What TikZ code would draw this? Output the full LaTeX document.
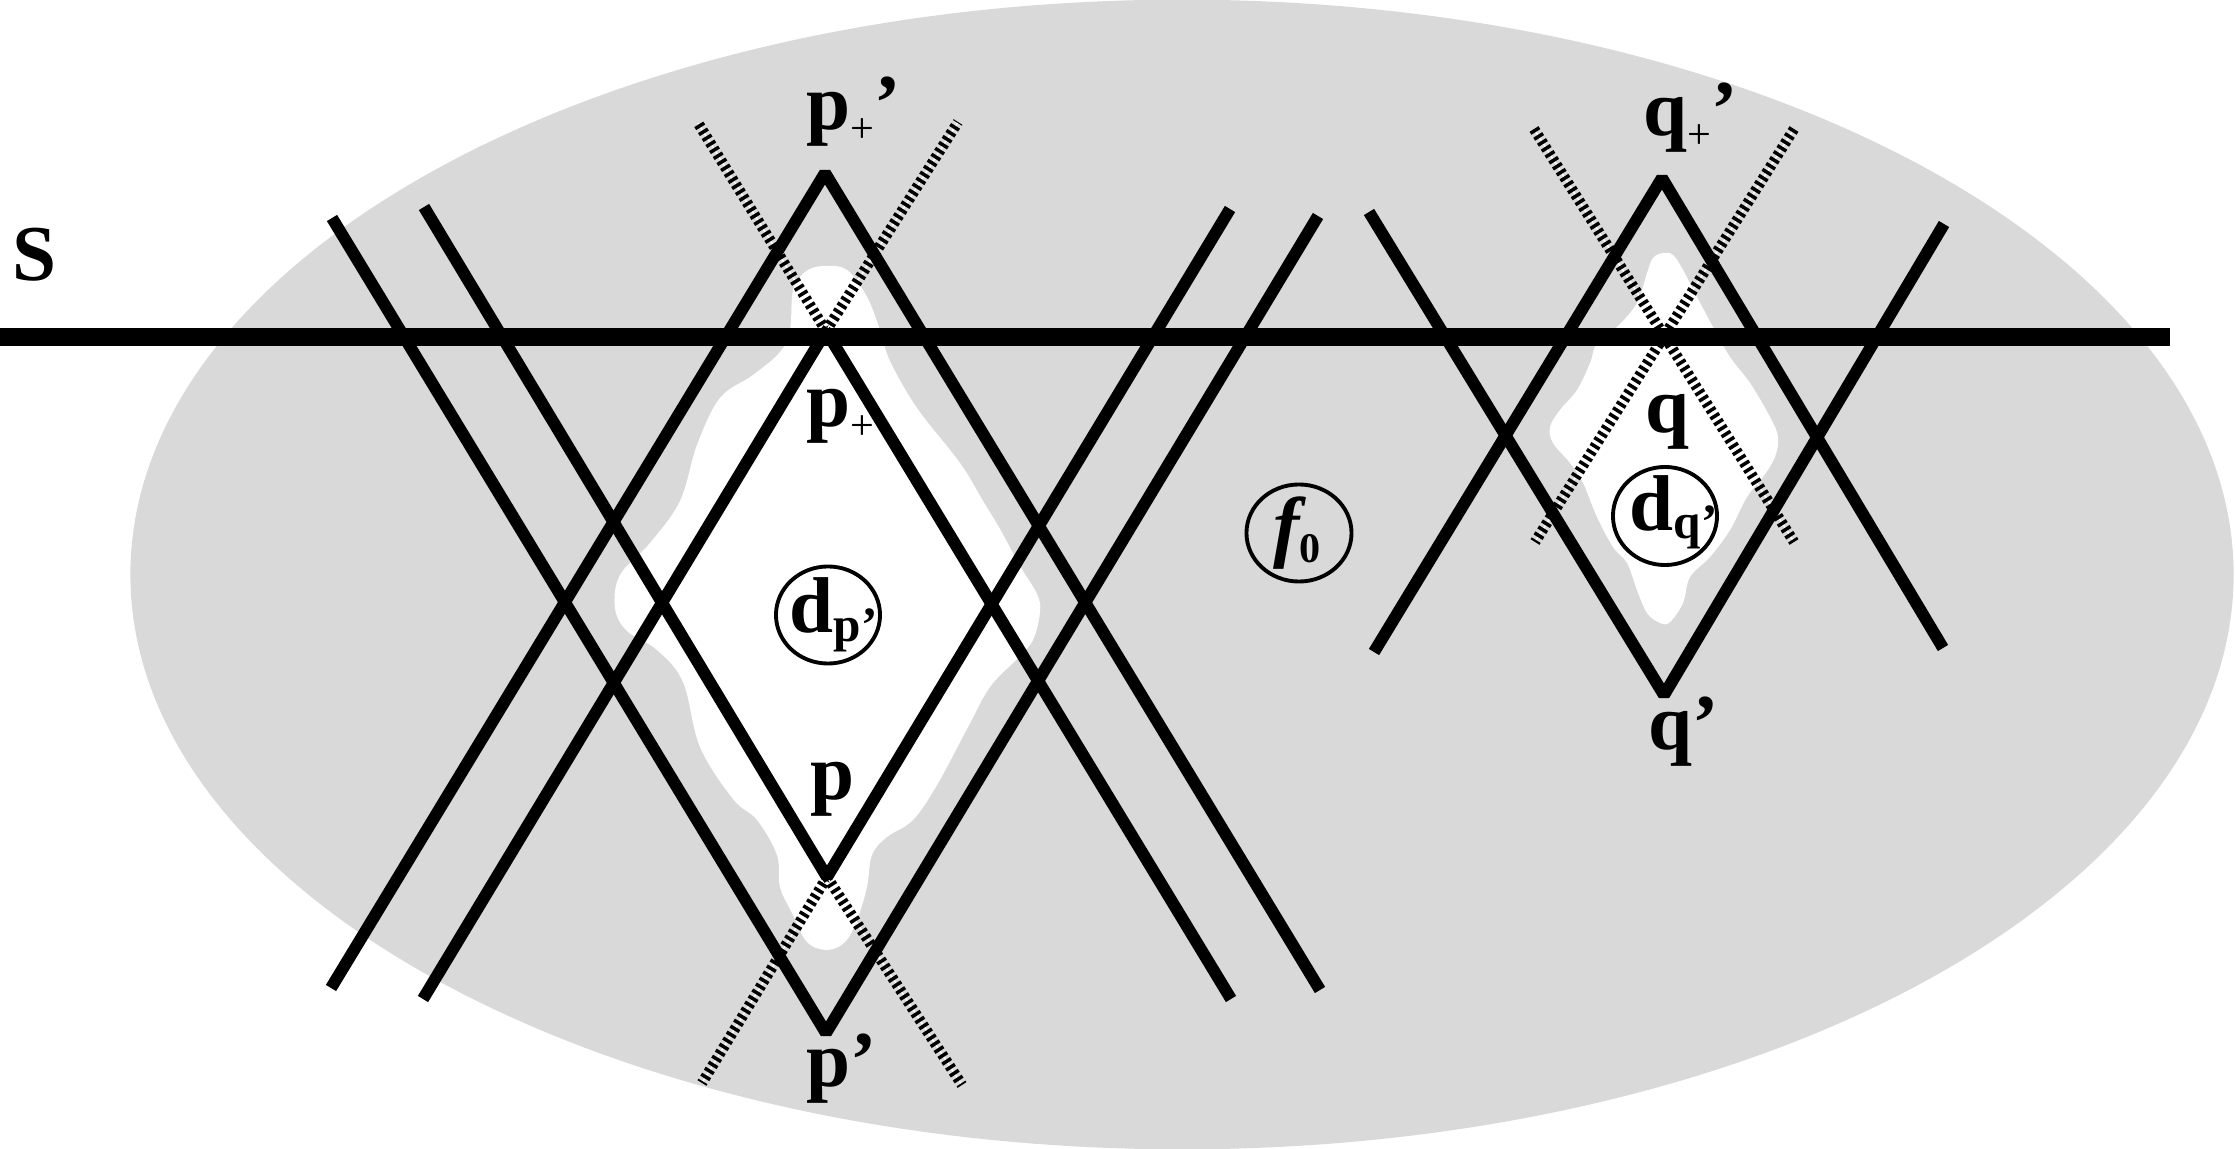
\documentclass[tikz,border=0pt]{standalone}
\usepackage{fontspec}
\setmainfont{Liberation Serif}
\definecolor{bggray}{RGB}{217,217,217}
\newcommand\subplus{\raisebox{-3.5pt}{\fontsize{12}{13}\selectfont\mdseries +}}
\begin{document}
\begin{tikzpicture}[x=0.01cm,y=-0.01cm,
  bl/.style={line width=3.4pt, line join=bevel, line cap=butt},
  sline/.style={line width=4.9pt},
  hatch/.style={draw=black, line width=3pt, dash pattern=on 1pt off 1pt, preaction={draw=white, solid}},
  lbl/.style={inner sep=0pt, anchor=base west, font=\fontsize{22.5}{25}\selectfont\bfseries},
  ring/.style={draw=black, line width=1.1pt}]
\useasboundingbox (0,0) rectangle (2235,1149);
% grey region
\fill[bggray] (1182,574.5) ellipse [x radius=10.51cm, y radius=5.745cm];
% white blobs
\fill[white] plot[smooth cycle, tension=0.6] coordinates {
 (823,266) (847,270) (867,297) (880,330) (890,361) (917,408) (960,463) (983,501)
 (1000,529) (1020,566) (1037,594) (1040,612) (1033,640) (1017,659) (990,687)
 (967,729) (937,785) (913,820) (887,837) (872,855) (867,887) (857,920) (845,942)
 (827,950) (807,942) (793,915) (780,887) (777,855) (757,820) (733,799) (700,747)
 (683,682) (657,650) (627,631) (615,608) (620,575) (650,543) (680,501) (697,445)
 (720,398) (753,375) (780,352) (790,330) (793,290) (805,272)};
\fill[white] plot[smooth cycle, tension=0.6] coordinates {
 (1663,253) (1673,255) (1683,270) (1697,297) (1713,327) (1730,357) (1750,383)
 (1770,417) (1778,437) (1775,457) (1763,477) (1747,497) (1730,530) (1710,557)
 (1690,577) (1683,603) (1670,622) (1660,623) (1647,613) (1637,590) (1627,563)
 (1613,547) (1597,517) (1583,483) (1570,463) (1553,443) (1550,427) (1560,410)
 (1577,390) (1590,363) (1597,343) (1617,327) (1637,303) (1647,273) (1653,258)};
% key points
\coordinate (T) at (825,173);
\coordinate (B) at (826,1033);
\coordinate (t) at (826,331);
\coordinate (b) at (827,877);
\coordinate (oTL) at (331,988);
\coordinate (oTR) at (1320,990);
\coordinate (oBL) at (332,218);
\coordinate (oBR) at (1318,216);
\coordinate (iTL) at (423,999);
\coordinate (iTR) at (1231,999);
\coordinate (iBL) at (424,207);
\coordinate (iBR) at (1230,209);
\coordinate (Qt) at (1662,178);
\coordinate (Qb) at (1664,695);
\coordinate (qTL) at (1374,652);
\coordinate (qTR) at (1943,648);
\coordinate (qBL) at (1369,212);
\coordinate (qBR) at (1944,224);
\coordinate (hp1) at (698,123);
\coordinate (hp2) at (958,122);
\coordinate (hp3) at (702,1083);
\coordinate (hp4) at (962,1085);
\coordinate (hq1) at (1534,129);
\coordinate (hq2) at (1794,542);
\coordinate (hq3) at (1794,129);
\coordinate (hq4) at (1535,542);
\coordinate (sL) at (0,337);
\coordinate (sR) at (2170,337);
% hatched lines
\draw[hatch] (t) -- (hp1);
\draw[hatch] (t) -- (hp2);
\draw[hatch] (b) -- (hp3);
\draw[hatch] (b) -- (hp4);
\draw[hatch] (hq1) -- (hq2);
\draw[hatch] (hq3) -- (hq4);
% black lines
\draw[bl] (oTL) -- (T) -- (oTR);
\draw[bl] (oBL) -- (B) -- (oBR);
\draw[bl] (iTL) -- (t) -- (iTR);
\draw[bl] (iBL) -- (b) -- (iBR);
\draw[bl] (qTL) -- (Qt) -- (qTR);
\draw[bl] (qBL) -- (Qb) -- (qBR);
\draw[sline] (sL) -- (sR);
% rings
\draw[ring] (828,615) ellipse [x radius=0.52cm, y radius=0.485cm];
\draw[ring] (1299,533) ellipse [x radius=0.525cm, y radius=0.485cm];
\draw[ring] (1665,516) ellipse [x radius=0.52cm, y radius=0.49cm];
% labels
\node[lbl] (lS) at (12,281) {S};
\node[lbl] (lpp) at (806,130) {p\subplus’};
\node[lbl] (lpin) at (806,427) {p\subplus};
\node[lbl] (lp) at (810,800) {p};
\node[lbl] (lpq) at (806,1086) {p’};
\node[lbl] (lqp) at (1643,136) {q\subplus’};
\node[lbl] (lq) at (1645,433) {q};
\node[lbl] (lqq) at (1648,750) {q’};
\node[lbl] (ldp) at (789,633) {d\raisebox{-2.4pt}{\fontsize{14}{15}\selectfont p’}};
\node[lbl] (ldq) at (1629,531) {d\raisebox{-2.2pt}{\fontsize{14}{15}\selectfont q’}};
\node[inner sep=0pt, font=\fontsize{22.5}{25}\selectfont\bfseries] (lf) at (1297,533)
  {\itshape f\raisebox{-2.8pt}{\fontsize{12}{13}\selectfont\upshape 0}};
\end{tikzpicture}
\end{document}
